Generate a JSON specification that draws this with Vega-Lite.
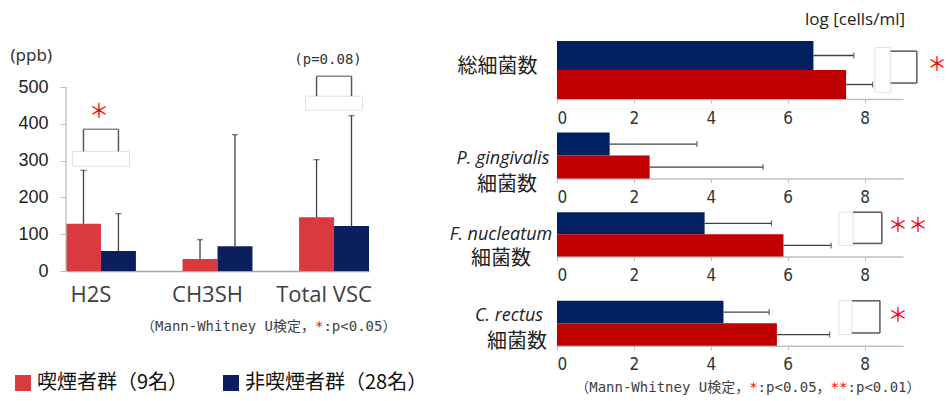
{
  "$schema": "https://vega.github.io/schema/vega-lite/v6.json",
  "background": "white",
  "autosize": {"type": "pad"},
  "padding": {"left": 10, "top": 11, "right": 0, "bottom": 0},
  "config": {"view": {"stroke": null}, "axis": {"grid": false}},
  "datasets": {
    "vsc": [
      {"compound": "H2S", "group": "喫煙者群（9名）", "mean": 128.6, "upper": 273.5},
      {"compound": "H2S", "group": "非喫煙者群（28名）", "mean": 54.3, "upper": 155.8},
      {"compound": "CH3SH", "group": "喫煙者群（9名）", "mean": 32.6, "upper": 85.1},
      {"compound": "CH3SH", "group": "非喫煙者群（28名）", "mean": 67.0, "upper": 370.5},
      {"compound": "Total VSC", "group": "喫煙者群（9名）", "mean": 145.8, "upper": 302.5},
      {"compound": "Total VSC", "group": "非喫煙者群（28名）", "mean": 122.3, "upper": 422.0}
    ],
    "bacteria": [
      {"target": "総細菌数", "group": "非喫煙者群（28名）", "mean": 6.67, "upper": 7.72},
      {"target": "総細菌数", "group": "喫煙者群（9名）", "mean": 7.52, "upper": 8.21},
      {"target": "P. gingivalis", "group": "非喫煙者群（28名）", "mean": 1.37, "upper": 3.64},
      {"target": "P. gingivalis", "group": "喫煙者群（9名）", "mean": 2.41, "upper": 5.36},
      {"target": "F. nucleatum", "group": "非喫煙者群（28名）", "mean": 3.84, "upper": 5.58},
      {"target": "F. nucleatum", "group": "喫煙者群（9名）", "mean": 5.89, "upper": 7.13},
      {"target": "C. rectus", "group": "非喫煙者群（28名）", "mean": 4.33, "upper": 5.52},
      {"target": "C. rectus", "group": "喫煙者群（9名）", "mean": 5.72, "upper": 7.09}
    ]
  },
  "hconcat": [
    {
      "width": 303,
      "height": 230,
      "data": {"name": "vsc"},
      "layer": [
        {
          "mark": {"type": "bar"},
          "encoding": {
            "x": {"field": "compound", "type": "nominal",
              "scale": {"domain": ["H2S", "CH3SH", "Total VSC"], "paddingInner": 0.4, "paddingOuter": 0},
              "axis": {"title": null, "ticks": false, "domainColor": "#a6a6a6", "domainWidth": 1.5, "labelAngle": 0,
                "labelFont": "Open Sans", "labelFontSize": 22, "labelColor": "#404040", "labelPadding": 13, "labelOffset": -10}},
            "xOffset": {"field": "group", "type": "nominal",
              "scale": {"domain": ["喫煙者群（9名）", "非喫煙者群（28名）"], "paddingInner": 0, "paddingOuter": 0}},
            "y": {"field": "mean", "type": "quantitative",
              "scale": {"domain": [0, 625], "nice": false},
              "axis": {"title": "(ppb)", "values": [0, 100, 200, 300, 400, 500], "domain": false, "tickSize": 6, "tickColor": "#bfbfbf",
                "labelFont": "Liberation Sans", "labelFontSize": 18, "labelColor": "#222", "labelPadding": 12,
                "titleAngle": 0, "titleX": -56, "titleY": 14, "titleAlign": "left", "titleBaseline": "middle",
                "titleFont": "Noto Sans", "titleFontSize": 17, "titleFontWeight": "normal", "titleColor": "#333"}},
            "color": {"field": "group", "type": "nominal",
              "scale": {"domain": ["喫煙者群（9名）", "非喫煙者群（28名）"], "range": ["#D9393F", "#0B1F5E"]},
              "legend": {"title": null, "orient": "none", "legendX": -53, "legendY": 332, "direction": "horizontal",
                "symbolType": "square", "symbolSize": 256, "symbolStrokeWidth": 0, "labelFont": "Noto Sans CJK JP",
                "labelFontSize": 20, "labelColor": "#111", "labelOffset": 4, "columnPadding": 32, "padding": 0, "labelLimit": 300}}
          }
        },
        {
          "transform": [{"filter": {"and": [{"field": "compound", "equal": "H2S"}, {"field": "group", "equal": "喫煙者群（9名）"}]}}],
          "mark": {"type": "rule", "color": "#bfbfbf", "strokeWidth": 1.3},
          "encoding": {"x": {"datum": "H2S", "type": "nominal", "bandPosition": 0}, "y": {"datum": 0, "type": "quantitative"}, "y2": {"datum": 500}}
        },
        {
          "transform": [{"filter": {"and": [{"field": "compound", "equal": "H2S"}, {"field": "group", "equal": "喫煙者群（9名）"}]}}],
          "mark": {"type": "bar", "fill": "white", "stroke": "#e2e2e2", "strokeWidth": 1, "width": 57},
          "encoding": {"x": {"field": "compound", "type": "nominal"}, "y": {"datum": 284.5, "type": "quantitative"}, "y2": {"datum": 325}}
        },
        {
          "transform": [{"filter": {"and": [{"field": "compound", "equal": "Total VSC"}, {"field": "group", "equal": "喫煙者群（9名）"}]}}],
          "mark": {"type": "bar", "fill": "white", "stroke": "#e2e2e2", "strokeWidth": 1, "width": 57},
          "encoding": {"x": {"field": "compound", "type": "nominal"}, "y": {"datum": 437, "type": "quantitative"}, "y2": {"datum": 475}}
        },
        {
          "mark": {"type": "rule", "color": "#404040", "strokeWidth": 1.3},
          "encoding": {
            "x": {"field": "compound", "type": "nominal"},
            "xOffset": {"field": "group", "type": "nominal"},
            "y": {"field": "mean", "type": "quantitative"},
            "y2": {"field": "upper"}
          }
        },
        {
          "mark": {"type": "tick", "color": "#404040", "thickness": 1.3, "size": 6},
          "encoding": {
            "x": {"field": "compound", "type": "nominal"},
            "xOffset": {"field": "group", "type": "nominal"},
            "y": {"field": "upper", "type": "quantitative"}
          }
        },
        {
          "transform": [{"filter": {"field": "compound", "equal": "H2S"}}],
          "mark": {"type": "rule", "color": "#595959", "strokeWidth": 1.5},
          "encoding": {
            "x": {"field": "compound", "type": "nominal"},
            "xOffset": {"field": "group", "type": "nominal"},
            "y": {"datum": 325, "type": "quantitative"}, "y2": {"datum": 385}
          }
        },
        {
          "transform": [{"filter": {"and": [{"field": "compound", "equal": "H2S"}, {"field": "group", "equal": "喫煙者群（9名）"}]}}],
          "mark": {"type": "tick", "color": "#595959", "thickness": 1.5, "size": 35},
          "encoding": {"x": {"field": "compound", "type": "nominal"}, "y": {"datum": 385, "type": "quantitative"}}
        },
        {
          "transform": [{"filter": {"field": "compound", "equal": "Total VSC"}}],
          "mark": {"type": "rule", "color": "#595959", "strokeWidth": 1.5},
          "encoding": {
            "x": {"field": "compound", "type": "nominal"},
            "xOffset": {"field": "group", "type": "nominal"},
            "y": {"datum": 475, "type": "quantitative"}, "y2": {"datum": 529}
          }
        },
        {
          "transform": [{"filter": {"and": [{"field": "compound", "equal": "Total VSC"}, {"field": "group", "equal": "喫煙者群（9名）"}]}}],
          "mark": {"type": "tick", "color": "#595959", "thickness": 1.5, "size": 35},
          "encoding": {"x": {"field": "compound", "type": "nominal"}, "y": {"datum": 529, "type": "quantitative"}}
        },
        {
          "transform": [{"filter": {"and": [{"field": "compound", "equal": "H2S"}, {"field": "group", "equal": "喫煙者群（9名）"}]}}],
          "mark": {"type": "text", "text": "＊", "color": "#ff0000", "font": "Noto Sans CJK JP", "fontSize": 20, "baseline": "middle", "dx": -2},
          "encoding": {"x": {"field": "compound", "type": "nominal"}, "y": {"datum": 431, "type": "quantitative"}}
        },
        {
          "transform": [{"filter": {"and": [{"field": "compound", "equal": "Total VSC"}, {"field": "group", "equal": "喫煙者群（9名）"}]}}],
          "mark": {"type": "text", "text": "(p=0.08)", "color": "#333", "font": "DejaVu Sans Mono", "fontSize": 14, "baseline": "middle", "dx": -6},
          "encoding": {"x": {"field": "compound", "type": "nominal"}, "y": {"datum": 572.6, "type": "quantitative"}}
        },
        {
          "transform": [{"filter": {"and": [{"field": "compound", "equal": "Total VSC"}, {"field": "group", "equal": "喫煙者群（9名）"}]}}],
          "mark": {"type": "text", "text": "（Mann-Whitney U検定，", "color": "#404040", "font": "'DejaVu Sans Mono', 'Noto Sans CJK JP'", "fontSize": 14, "align": "right", "baseline": "middle", "dx": -19},
          "encoding": {"x": {"field": "compound", "type": "nominal"}, "y": {"datum": -153, "type": "quantitative"}}
        },
        {
          "transform": [{"filter": {"and": [{"field": "compound", "equal": "Total VSC"}, {"field": "group", "equal": "喫煙者群（9名）"}]}}],
          "mark": {"type": "text", "text": "*", "color": "#ff0000", "font": "'DejaVu Sans Mono', 'Noto Sans CJK JP'", "fontSize": 14, "align": "left", "baseline": "middle", "dx": -19},
          "encoding": {"x": {"field": "compound", "type": "nominal"}, "y": {"datum": -153, "type": "quantitative"}}
        },
        {
          "transform": [{"filter": {"and": [{"field": "compound", "equal": "Total VSC"}, {"field": "group", "equal": "喫煙者群（9名）"}]}}],
          "mark": {"type": "text", "text": ":p<0.05）", "color": "#404040", "font": "'DejaVu Sans Mono', 'Noto Sans CJK JP'", "fontSize": 14, "align": "left", "baseline": "middle", "dx": -10.6},
          "encoding": {"x": {"field": "compound", "type": "nominal"}, "y": {"datum": -153, "type": "quantitative"}}
        }
      ]
    },
    {
      "spacing": 33.6,
      "bounds": "flush",
      "vconcat": [
        {
          "width": 346,
          "height": 58,
          "title": {"text": "log [cells/ml]", "anchor": "end", "frame": "group", "orient": "top", "font": "Open Sans", "fontSize": 17, "fontWeight": "normal", "color": "#222", "offset": 12, "dx": 2},
          "data": {"name": "bacteria"},
          "transform": [{"filter": {"field": "target", "equal": "総細菌数"}}],
          "layer": [
            {
              "mark": "bar",
              "encoding": {
                "y": {"field": "group", "type": "nominal", "scale": {"domain": ["非喫煙者群（28名）", "喫煙者群（9名）"], "paddingInner": 0, "paddingOuter": 0},
                  "axis": {"title": null, "labels": false, "ticks": false, "domainColor": "#bfbfbf"}},
                "x": {"field": "mean", "type": "quantitative", "scale": {"domain": [0, 9], "nice": false},
                  "axis": {"title": null, "values": [0, 2, 4, 6, 8], "tickSize": 4, "tickColor": "#bfbfbf", "domainColor": "#bfbfbf", "domainWidth": 1.5,
                    "labelFont": "'Liberation Sans Narrow', 'DejaVu Sans Condensed', 'Roboto Condensed', sans-serif", "labelFontSize": 17, "labelColor": "#333", "labelPadding": 7}},
                "color": {"field": "group", "type": "nominal", "scale": {"domain": ["喫煙者群（9名）", "非喫煙者群（28名）"], "range": ["#C00000", "#002060"]}, "legend": null}
              }
            },
            {
              "mark": {"type": "rule", "color": "#404040", "strokeWidth": 1.3},
              "encoding": {"y": {"field": "group", "type": "nominal"}, "x": {"field": "mean", "type": "quantitative"}, "x2": {"field": "upper"}}
            },
            {
              "mark": {"type": "tick", "color": "#404040", "thickness": 1.3, "size": 6},
              "encoding": {"y": {"field": "group", "type": "nominal"}, "x": {"field": "upper", "type": "quantitative"}}
            },
            {
              "transform": [{"filter": {"field": "group", "equal": "喫煙者群（9名）"}}],
              "mark": {"type": "rect", "fill": "white", "stroke": "#e2e2e2", "strokeWidth": 1},
              "encoding": {"x": {"datum": 8.27, "type": "quantitative"}, "x2": {"datum": 8.68},
                "y": {"datum": "非喫煙者群（28名）", "type": "nominal", "bandPosition": 0.22},
                "y2": {"datum": "喫煙者群（9名）", "bandPosition": 0.77}}
            },
            {
              "transform": [{"filter": {"field": "group", "equal": "非喫煙者群（28名）"}}],
              "mark": {"type": "rule", "color": "#595959", "strokeWidth": 1.5},
              "encoding": {"x": {"datum": 8.68, "type": "quantitative"}, "x2": {"datum": 9.36}, "y": {"field": "group", "type": "nominal", "bandPosition": 0.35}}
            },
            {
              "transform": [{"filter": {"field": "group", "equal": "喫煙者群（9名）"}}],
              "mark": {"type": "rule", "color": "#595959", "strokeWidth": 1.5},
              "encoding": {"x": {"datum": 8.68, "type": "quantitative"}, "x2": {"datum": 9.36}, "y": {"field": "group", "type": "nominal", "bandPosition": 0.45}}
            },
            {
              "transform": [{"filter": {"field": "group", "equal": "喫煙者群（9名）"}}],
              "mark": {"type": "rule", "color": "#595959", "strokeWidth": 1.5},
              "encoding": {"x": {"datum": 9.36, "type": "quantitative"},
                "y": {"datum": "非喫煙者群（28名）", "type": "nominal", "bandPosition": 0.35},
                "y2": {"datum": "喫煙者群（9名）", "bandPosition": 0.45}}
            },
            {
              "transform": [{"filter": {"field": "group", "equal": "喫煙者群（9名）"}}],
              "mark": {"type": "text", "text": "＊", "color": "#ff0000", "font": "Noto Sans CJK JP", "fontSize": 20, "baseline": "middle", "dy": -5, "dx": -3},
              "encoding": {"x": {"datum": 9.96, "type": "quantitative"}}
            },
            {
              "transform": [{"filter": {"field": "group", "equal": "喫煙者群（9名）"}}],
              "mark": {"type": "text", "text": "総細菌数", "color": "#222", "font": "Noto Sans CJK JP", "fontSize": 20, "align": "center", "baseline": "middle", "dx": -59.5, "dy": -3},
              "encoding": {"x": {"datum": 0, "type": "quantitative"}}
            }
          ]
        },
        {
          "width": 346,
          "height": 46,
          "data": {"name": "bacteria"},
          "transform": [{"filter": {"field": "target", "equal": "P. gingivalis"}}],
          "layer": [
            {
              "mark": "bar",
              "encoding": {
                "y": {"field": "group", "type": "nominal", "scale": {"domain": ["非喫煙者群（28名）", "喫煙者群（9名）"], "paddingInner": 0, "paddingOuter": 0},
                  "axis": {"title": null, "labels": false, "ticks": false, "domainColor": "#bfbfbf"}},
                "x": {"field": "mean", "type": "quantitative", "scale": {"domain": [0, 9], "nice": false},
                  "axis": {"title": null, "values": [0, 2, 4, 6, 8], "tickSize": 4, "tickColor": "#bfbfbf", "domainColor": "#bfbfbf", "domainWidth": 1.5,
                    "labelFont": "'Liberation Sans Narrow', 'DejaVu Sans Condensed', 'Roboto Condensed', sans-serif", "labelFontSize": 17, "labelColor": "#333", "labelPadding": 7}},
                "color": {"field": "group", "type": "nominal", "scale": {"domain": ["喫煙者群（9名）", "非喫煙者群（28名）"], "range": ["#C00000", "#002060"]}, "legend": null}
              }
            },
            {
              "mark": {"type": "rule", "color": "#404040", "strokeWidth": 1.3},
              "encoding": {"y": {"field": "group", "type": "nominal"}, "x": {"field": "mean", "type": "quantitative"}, "x2": {"field": "upper"}}
            },
            {
              "mark": {"type": "tick", "color": "#404040", "thickness": 1.3, "size": 6},
              "encoding": {"y": {"field": "group", "type": "nominal"}, "x": {"field": "upper", "type": "quantitative"}}
            },
            {
              "transform": [{"filter": {"field": "group", "equal": "喫煙者群（9名）"}}],
              "mark": {"type": "text", "text": "P. gingivalis", "color": "#222", "font": "Open Sans", "fontStyle": "italic", "fontSize": 18, "align": "center", "baseline": "middle", "dx": -54, "dy": 3},
              "encoding": {"x": {"datum": 0, "type": "quantitative"}}
            },
            {
              "transform": [{"filter": {"field": "group", "equal": "喫煙者群（9名）"}}],
              "mark": {"type": "text", "text": "細菌数", "color": "#222", "font": "Noto Sans CJK JP", "fontSize": 20, "align": "center", "baseline": "middle", "dx": -50, "dy": 29},
              "encoding": {"x": {"datum": 0, "type": "quantitative"}}
            }
          ]
        },
        {
          "width": 346,
          "height": 54.6,
          "data": {"name": "bacteria"},
          "transform": [{"filter": {"field": "target", "equal": "F. nucleatum"}}],
          "layer": [
            {
              "mark": "bar",
              "encoding": {
                "y": {"field": "group", "type": "nominal", "scale": {"domain": ["非喫煙者群（28名）", "喫煙者群（9名）"], "range": [0, 44.3], "paddingInner": 0, "paddingOuter": 0},
                  "axis": {"title": null, "labels": false, "ticks": false, "domainColor": "#bfbfbf"}},
                "x": {"field": "mean", "type": "quantitative", "scale": {"domain": [0, 9], "nice": false},
                  "axis": {"title": null, "offset": -10.3, "values": [0, 2, 4, 6, 8], "tickSize": 4, "tickColor": "#bfbfbf", "domainColor": "#bfbfbf", "domainWidth": 1.5,
                    "labelFont": "'Liberation Sans Narrow', 'DejaVu Sans Condensed', 'Roboto Condensed', sans-serif", "labelFontSize": 17, "labelColor": "#333", "labelPadding": 7}},
                "color": {"field": "group", "type": "nominal", "scale": {"domain": ["喫煙者群（9名）", "非喫煙者群（28名）"], "range": ["#C00000", "#002060"]}, "legend": null}
              }
            },
            {
              "mark": {"type": "rule", "color": "#404040", "strokeWidth": 1.3},
              "encoding": {"y": {"field": "group", "type": "nominal"}, "x": {"field": "mean", "type": "quantitative"}, "x2": {"field": "upper"}}
            },
            {
              "mark": {"type": "tick", "color": "#404040", "thickness": 1.3, "size": 6},
              "encoding": {"y": {"field": "group", "type": "nominal"}, "x": {"field": "upper", "type": "quantitative"}}
            },
            {
              "transform": [{"filter": {"field": "group", "equal": "喫煙者群（9名）"}}],
              "mark": {"type": "rect", "fill": "white", "stroke": "#e2e2e2", "strokeWidth": 1},
              "encoding": {"x": {"datum": 7.33, "type": "quantitative"}, "x2": {"datum": 7.7},
                "y": {"datum": "非喫煙者群（28名）", "type": "nominal", "bandPosition": 0},
                "y2": {"datum": "喫煙者群（9名）", "bandPosition": 0.5}}
            },
            {
              "transform": [{"filter": {"field": "group", "equal": "非喫煙者群（28名）"}}],
              "mark": {"type": "rule", "color": "#595959", "strokeWidth": 1.5},
              "encoding": {"x": {"datum": 7.7, "type": "quantitative"}, "x2": {"datum": 8.45}, "y": {"field": "group", "type": "nominal", "bandPosition": 0}}
            },
            {
              "transform": [{"filter": {"field": "group", "equal": "喫煙者群（9名）"}}],
              "mark": {"type": "rule", "color": "#595959", "strokeWidth": 1.5},
              "encoding": {"x": {"datum": 7.7, "type": "quantitative"}, "x2": {"datum": 8.45}, "y": {"field": "group", "type": "nominal", "bandPosition": 0.41}}
            },
            {
              "transform": [{"filter": {"field": "group", "equal": "喫煙者群（9名）"}}],
              "mark": {"type": "rule", "color": "#595959", "strokeWidth": 1.5},
              "encoding": {"x": {"datum": 8.45, "type": "quantitative"},
                "y": {"datum": "非喫煙者群（28名）", "type": "nominal", "bandPosition": 0},
                "y2": {"datum": "喫煙者群（9名）", "bandPosition": 0.41}}
            },
            {
              "transform": [{"filter": {"field": "group", "equal": "喫煙者群（9名）"}}],
              "mark": {"type": "text", "text": "＊＊", "color": "#ff0000", "font": "Noto Sans CJK JP", "fontSize": 20, "baseline": "middle", "dy": -13.2},
              "encoding": {"x": {"datum": 9.13, "type": "quantitative"}}
            },
            {
              "transform": [{"filter": {"field": "group", "equal": "喫煙者群（9名）"}}],
              "mark": {"type": "text", "text": "F. nucleatum", "color": "#222", "font": "Open Sans", "fontStyle": "italic", "fontSize": 18, "align": "center", "baseline": "middle", "dx": -56, "dy": -5},
              "encoding": {"x": {"datum": 0, "type": "quantitative"}}
            },
            {
              "transform": [{"filter": {"field": "group", "equal": "喫煙者群（9名）"}}],
              "mark": {"type": "text", "text": "細菌数", "color": "#222", "font": "Noto Sans CJK JP", "fontSize": 20, "align": "center", "baseline": "middle", "dx": -56, "dy": 19.5},
              "encoding": {"x": {"datum": 0, "type": "quantitative"}}
            }
          ]
        },
        {
          "width": 346,
          "height": 45,
          "data": {"name": "bacteria"},
          "transform": [{"filter": {"field": "target", "equal": "C. rectus"}}],
          "layer": [
            {
              "mark": "bar",
              "encoding": {
                "y": {"field": "group", "type": "nominal", "scale": {"domain": ["非喫煙者群（28名）", "喫煙者群（9名）"], "paddingInner": 0, "paddingOuter": 0},
                  "axis": {"title": null, "labels": false, "ticks": false, "domainColor": "#bfbfbf"}},
                "x": {"field": "mean", "type": "quantitative", "scale": {"domain": [0, 9], "nice": false},
                  "axis": {"title": null, "values": [0, 2, 4, 6, 8], "tickSize": 4, "tickColor": "#bfbfbf", "domainColor": "#bfbfbf", "domainWidth": 1.5,
                    "labelFont": "'Liberation Sans Narrow', 'DejaVu Sans Condensed', 'Roboto Condensed', sans-serif", "labelFontSize": 17, "labelColor": "#333", "labelPadding": 7}},
                "color": {"field": "group", "type": "nominal", "scale": {"domain": ["喫煙者群（9名）", "非喫煙者群（28名）"], "range": ["#C00000", "#002060"]}, "legend": null}
              }
            },
            {
              "mark": {"type": "rule", "color": "#404040", "strokeWidth": 1.3},
              "encoding": {"y": {"field": "group", "type": "nominal"}, "x": {"field": "mean", "type": "quantitative"}, "x2": {"field": "upper"}}
            },
            {
              "mark": {"type": "tick", "color": "#404040", "thickness": 1.3, "size": 6},
              "encoding": {"y": {"field": "group", "type": "nominal"}, "x": {"field": "upper", "type": "quantitative"}}
            },
            {
              "transform": [{"filter": {"field": "group", "equal": "喫煙者群（9名）"}}],
              "mark": {"type": "rect", "fill": "white", "stroke": "#e2e2e2", "strokeWidth": 1},
              "encoding": {"x": {"datum": 7.33, "type": "quantitative"}, "x2": {"datum": 7.67},
                "y": {"datum": "非喫煙者群（28名）", "type": "nominal", "bandPosition": 0},
                "y2": {"datum": "喫煙者群（9名）", "bandPosition": 0.5}}
            },
            {
              "transform": [{"filter": {"field": "group", "equal": "非喫煙者群（28名）"}}],
              "mark": {"type": "rule", "color": "#595959", "strokeWidth": 1.5},
              "encoding": {"x": {"datum": 7.67, "type": "quantitative"}, "x2": {"datum": 8.4}, "y": {"field": "group", "type": "nominal", "bandPosition": 0}}
            },
            {
              "transform": [{"filter": {"field": "group", "equal": "喫煙者群（9名）"}}],
              "mark": {"type": "rule", "color": "#595959", "strokeWidth": 1.5},
              "encoding": {"x": {"datum": 7.67, "type": "quantitative"}, "x2": {"datum": 8.4}, "y": {"field": "group", "type": "nominal", "bandPosition": 0.43}}
            },
            {
              "transform": [{"filter": {"field": "group", "equal": "喫煙者群（9名）"}}],
              "mark": {"type": "rule", "color": "#595959", "strokeWidth": 1.5},
              "encoding": {"x": {"datum": 8.4, "type": "quantitative"},
                "y": {"datum": "非喫煙者群（28名）", "type": "nominal", "bandPosition": 0},
                "y2": {"datum": "喫煙者群（9名）", "bandPosition": 0.43}}
            },
            {
              "transform": [{"filter": {"field": "group", "equal": "喫煙者群（9名）"}}],
              "mark": {"type": "text", "text": "＊", "color": "#ff0000", "font": "Noto Sans CJK JP", "fontSize": 20, "baseline": "middle", "dy": -7},
              "encoding": {"x": {"datum": 8.87, "type": "quantitative"}}
            },
            {
              "transform": [{"filter": {"field": "group", "equal": "喫煙者群（9名）"}}],
              "mark": {"type": "text", "text": "C. rectus", "color": "#222", "font": "Open Sans", "fontStyle": "italic", "fontSize": 18, "align": "center", "baseline": "middle", "dx": -48, "dy": -7},
              "encoding": {"x": {"datum": 0, "type": "quantitative"}}
            },
            {
              "transform": [{"filter": {"field": "group", "equal": "喫煙者群（9名）"}}],
              "mark": {"type": "text", "text": "細菌数", "color": "#222", "font": "Noto Sans CJK JP", "fontSize": 20, "align": "center", "baseline": "middle", "dx": -40, "dy": 19},
              "encoding": {"x": {"datum": 0, "type": "quantitative"}}
            },
            {
              "transform": [{"filter": {"field": "group", "equal": "喫煙者群（9名）"}}],
              "mark": {"type": "text", "text": "（Mann-Whitney U検定，", "color": "#404040", "font": "'DejaVu Sans Mono', 'Noto Sans CJK JP'", "fontSize": 14, "align": "right", "baseline": "middle", "dy": 64.5},
              "encoding": {"x": {"datum": 5, "type": "quantitative"}}
            },
            {
              "transform": [{"filter": {"field": "group", "equal": "喫煙者群（9名）"}}],
              "mark": {"type": "text", "text": "*", "color": "#ff0000", "font": "'DejaVu Sans Mono', 'Noto Sans CJK JP'", "fontSize": 14, "align": "left", "baseline": "middle", "dy": 64.5},
              "encoding": {"x": {"datum": 5, "type": "quantitative"}}
            },
            {
              "transform": [{"filter": {"field": "group", "equal": "喫煙者群（9名）"}}],
              "mark": {"type": "text", "text": ":p<0.05，", "color": "#404040", "font": "'DejaVu Sans Mono', 'Noto Sans CJK JP'", "fontSize": 14, "align": "left", "baseline": "middle", "dx": 8.4, "dy": 64.5},
              "encoding": {"x": {"datum": 5, "type": "quantitative"}}
            },
            {
              "transform": [{"filter": {"field": "group", "equal": "喫煙者群（9名）"}}],
              "mark": {"type": "text", "text": "**", "color": "#ff0000", "font": "'DejaVu Sans Mono', 'Noto Sans CJK JP'", "fontSize": 14, "align": "left", "baseline": "middle", "dx": 81.4, "dy": 64.5},
              "encoding": {"x": {"datum": 5, "type": "quantitative"}}
            },
            {
              "transform": [{"filter": {"field": "group", "equal": "喫煙者群（9名）"}}],
              "mark": {"type": "text", "text": ":p<0.01）", "color": "#404040", "font": "'DejaVu Sans Mono', 'Noto Sans CJK JP'", "fontSize": 14, "align": "left", "baseline": "middle", "dx": 98.3, "dy": 64.5},
              "encoding": {"x": {"datum": 5, "type": "quantitative"}}
            }
          ]
        }
      ]
    }
  ],
  "spacing": 188,
  "bounds": "flush",
  "resolve": {"scale": {"color": "independent"}, "legend": {"color": "independent"}}
}
